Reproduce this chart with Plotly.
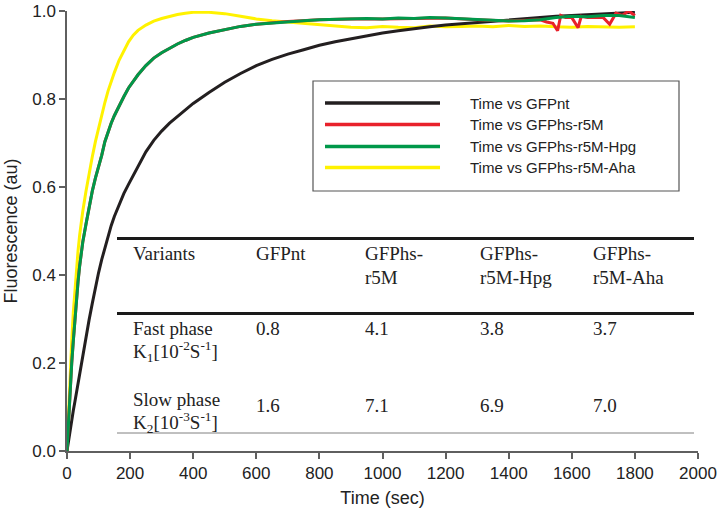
import plotly.graph_objects as go

# ---------------- data ----------------
time_s = [0, 5, 10, 15, 20, 25, 30, 35, 40, 45, 50, 60, 70, 80, 90, 100, 110, 120, 130, 140, 150,
          165, 180, 195, 210, 225, 250, 275, 300, 325, 350, 375, 400, 450, 500, 550, 600, 650, 700,
          750, 800, 850, 900, 950, 1000, 1050, 1100, 1150, 1200, 1250, 1300, 1350, 1400, 1450, 1500,
          1550, 1600, 1650, 1700, 1750, 1800]

gfp_nt = [0.0, 0.025, 0.048, 0.07, 0.092, 0.112, 0.133, 0.155, 0.175, 0.196, 0.218, 0.262, 0.298,
          0.335, 0.372, 0.405, 0.435, 0.462, 0.488, 0.512, 0.533, 0.56, 0.585, 0.606, 0.627, 0.648,
          0.68, 0.706, 0.727, 0.745, 0.76, 0.775, 0.79, 0.815, 0.838, 0.858, 0.876, 0.89, 0.902,
          0.912, 0.922, 0.93, 0.937, 0.944, 0.95, 0.955, 0.96, 0.964, 0.968, 0.971, 0.974, 0.977,
          0.98, 0.983, 0.986, 0.988, 0.99, 0.992, 0.994, 0.996, 0.997]

gfp_hpg = [0.0, 0.075, 0.14, 0.2, 0.25, 0.3, 0.345, 0.385, 0.42, 0.45, 0.475, 0.515, 0.555, 0.59,
           0.62, 0.645, 0.672, 0.703, 0.725, 0.745, 0.762, 0.785, 0.805, 0.825, 0.84, 0.855, 0.876,
           0.893, 0.905, 0.915, 0.925, 0.933, 0.94, 0.95, 0.958, 0.965, 0.97, 0.973, 0.976, 0.978,
           0.98, 0.981, 0.982, 0.983, 0.982, 0.984, 0.983, 0.985, 0.984, 0.982, 0.98, 0.978, 0.977,
           0.978, 0.98, 0.985, 0.988, 0.987, 0.99, 0.99, 0.985]

gfp_aha = [0.0, 0.09, 0.175, 0.25, 0.315, 0.37, 0.415, 0.455, 0.49, 0.52, 0.545, 0.59, 0.632, 0.668,
           0.703, 0.735, 0.765, 0.792, 0.818, 0.84, 0.86, 0.888, 0.91, 0.93, 0.945, 0.956, 0.968,
           0.977, 0.983, 0.988, 0.992, 0.995, 0.997, 0.997, 0.994, 0.988, 0.982, 0.978, 0.975,
           0.972, 0.97, 0.966, 0.963, 0.962, 0.965, 0.963, 0.962, 0.966, 0.964, 0.965, 0.966, 0.964,
           0.967, 0.965, 0.966, 0.964, 0.963, 0.965, 0.964, 0.963, 0.964]

time_r5m = [0, 5, 10, 15, 20, 25, 30, 35, 40, 45, 50, 60, 70, 80, 90, 100, 110, 120, 130, 140, 150,
            165, 180, 195, 210, 225, 250, 275, 300, 325, 350, 375, 400, 450, 500, 550, 600, 700, 800,
            900, 1000, 1100, 1200, 1300, 1400, 1500, 1520, 1540, 1555, 1565, 1580, 1600, 1620, 1630,
            1650, 1680, 1700, 1720, 1740, 1760, 1780, 1800]
gfp_r5m = [0.0, 0.075, 0.14, 0.2, 0.25, 0.3, 0.345, 0.385, 0.42, 0.45, 0.475, 0.515, 0.555, 0.59,
           0.62, 0.645, 0.672, 0.703, 0.725, 0.745, 0.762, 0.785, 0.805, 0.825, 0.84, 0.855, 0.876,
           0.893, 0.905, 0.915, 0.925, 0.933, 0.94, 0.95, 0.958, 0.965, 0.97, 0.976, 0.98, 0.982,
           0.982, 0.983, 0.984, 0.98, 0.977, 0.98, 0.975, 0.972, 0.955, 0.99, 0.985, 0.985, 0.962,
           0.988, 0.985, 0.986, 0.985, 0.97, 0.995, 0.99, 1.0, 0.99]

legend_labels = ["Time vs GFPnt", "Time vs GFPhs-r5M", "Time vs GFPhs-r5M-Hpg", "Time vs GFPhs-r5M-Aha"]
colors = ["#231f20", "#e8212b", "#00984a", "#fff200"]

table_header = [["Variants"], ["GFPnt"], ["GFPhs-", "r5M"], ["GFPhs-", "r5M-Hpg"], ["GFPhs-", "r5M-Aha"]]
row_labels = [["Fast phase", "K<sub>1</sub>[10<sup>-2</sup>S<sup>-1</sup>]"],
              ["Slow phase", "K<sub>2</sub>[10<sup>-3</sup>S<sup>-1</sup>]"]]
fast_k1 = ["0.8", "4.1", "3.8", "3.7"]
slow_k2 = ["1.6", "7.1", "6.9", "7.0"]

# ---------------- figure ----------------
fig = go.Figure()
lw = 3
fig.add_trace(go.Scatter(x=time_s, y=gfp_aha, mode="lines", line=dict(color=colors[3], width=lw)))
fig.add_trace(go.Scatter(x=time_s, y=gfp_nt, mode="lines", line=dict(color=colors[0], width=lw)))
fig.add_trace(go.Scatter(x=time_r5m, y=gfp_r5m, mode="lines", line=dict(color=colors[1], width=lw)))
fig.add_trace(go.Scatter(x=time_s, y=gfp_hpg, mode="lines", line=dict(color=colors[2], width=lw)))

L, R, T, B = 67, 21, 11, 68
W, H = 719, 519
pw, ph = W - L - R, H - T - B


def px(x):
    return (x - L) / pw


def py(y):
    return (H - B - y) / ph


shapes = []
annotations = []

# legend box
shapes.append(dict(type="rect", xref="paper", yref="paper", x0=px(313), x1=px(679), y0=py(191), y1=py(81),
                   line=dict(color="#555555", width=1.2), fillcolor="white", layer="above"))
rows_y = [103, 124.5, 146.5, 167.5]
for lab, c, yy in zip(legend_labels, colors, rows_y):
    shapes.append(dict(type="line", xref="paper", yref="paper", x0=px(325), x1=px(440), y0=py(yy), y1=py(yy),
                       line=dict(color=c, width=3.5), layer="above"))
    annotations.append(dict(xref="paper", yref="paper", x=px(468), y=py(yy), text=lab, showarrow=False,
                            xanchor="left", yanchor="middle",
                            font=dict(family="Liberation Sans, Arial", size=15, color="#222222")))

# table rules
for yy, c, w in [(238.5, "#1a1a1a", 3), (313.5, "#1a1a1a", 3), (433, "#808080", 1)]:
    shapes.append(dict(type="line", xref="paper", yref="paper", x0=px(117), x1=px(694), y0=py(yy), y1=py(yy),
                       line=dict(color=c, width=w)))

tfont = dict(family="Liberation Serif, Times New Roman", size=19, color="#222222")
col_x = [131, 254, 363, 478, 591]


def put(text, x, y):
    annotations.append(dict(xref="paper", yref="paper", x=px(x), y=py(y), text=text, showarrow=False,
                            xanchor="left", yanchor="middle", align="left", font=tfont))


for lines, cx in zip(table_header, col_x):
    for k, ln in enumerate(lines):
        put(ln, cx, 253 + 24 * k)
for lines, vals, ytop, vy in zip(row_labels, [fast_k1, slow_k2], [328, 399], [328, 405]):
    for k, ln in enumerate(lines):
        put(ln, col_x[0], ytop + 23 * k)
    for v, cx in zip(vals, col_x[1:]):
        put(v, cx, vy)

axfont = dict(family="Liberation Sans, Arial", size=17, color="#222222")
titlefont = dict(family="Liberation Sans, Arial", size=18, color="#222222")
fig.update_layout(
    width=W, height=H,
    margin=dict(l=L, r=R, t=T, b=B),
    paper_bgcolor="white", plot_bgcolor="white",
    showlegend=False,
    shapes=shapes, annotations=annotations,
    xaxis=dict(range=[0, 2000], tickvals=list(range(0, 2001, 200)), showgrid=False, zeroline=False,
               automargin=False,
               showline=True, linecolor="#5f5f5f", linewidth=1.5, ticks="outside", ticklen=6,
               tickcolor="#5f5f5f", tickwidth=1.5, tickfont=axfont,
               title=dict(text="Time (sec)", font=titlefont, standoff=9)),
    yaxis=dict(range=[0, 1.0], tickvals=[0, 0.2, 0.4, 0.6, 0.8, 1.0], tickformat=".1f", showgrid=False,
               automargin=False,
               zeroline=False, showline=True, linecolor="#5f5f5f", linewidth=1.5, ticks="outside", ticklen=6,
               tickcolor="#5f5f5f", tickwidth=1.5, tickfont=axfont,
               title=dict(text="Fluorescence (au)", font=titlefont, standoff=10)),
)

fig.write_html("out.html", config={"displayModeBar": False},
               post_script="document.body.style.margin='0';document.body.style.padding='0';")
